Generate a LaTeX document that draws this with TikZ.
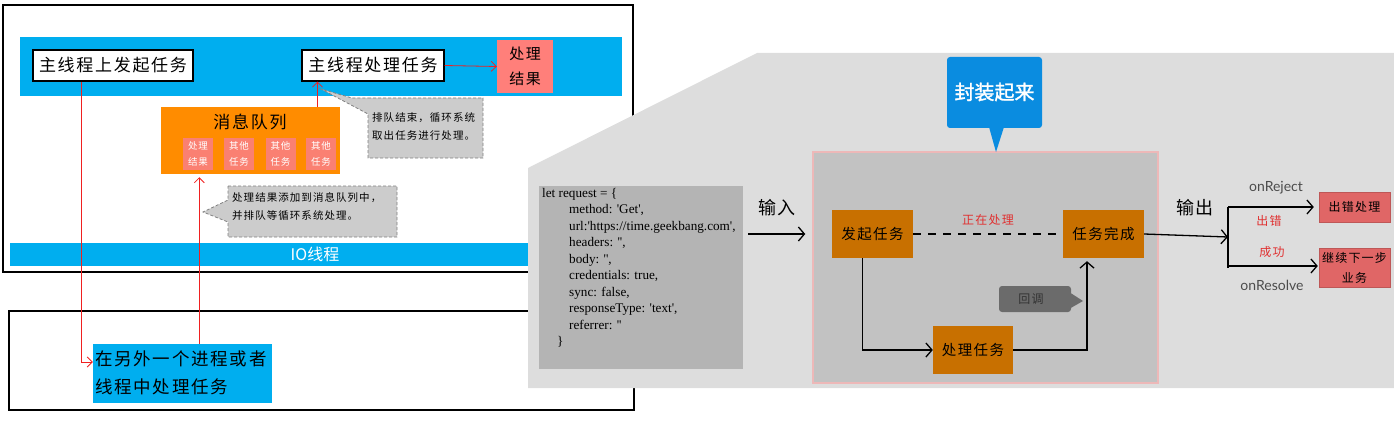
\documentclass[tikz,border=0pt]{standalone}
\usepackage{fontspec}
\setmainfont{Liberation Serif}
\newfontfamily\cjk{Noto Sans CJK SC}[LetterSpace=10]
\newfontfamily\cjkn{Noto Sans CJK SC}
\newfontfamily\cjkb{Noto Sans CJK SC}[FakeBold=1.5]
\newfontfamily\latf{Lato}
\usetikzlibrary{arrows.meta,calc}
\definecolor{cyanb}{HTML}{00AEEF}
\definecolor{salmonA}{HTML}{FF7F7A}
\definecolor{salmonB}{HTML}{FA8072}
\definecolor{orangeQ}{HTML}{FF8C00}
\definecolor{calloutg}{HTML}{CCCCCC}
\definecolor{calloutb}{HTML}{808080}
\definecolor{bggray}{HTML}{DDDDDD}
\definecolor{innergray}{HTML}{C2C2C2}
\definecolor{codegray}{HTML}{B4B4B4}
\definecolor{brownO}{HTML}{C87000}
\definecolor{redbox}{HTML}{E06666}
\definecolor{blueC}{HTML}{0A8CE0}
\definecolor{darkg}{HTML}{6B6B6B}
\definecolor{pinkedge}{HTML}{EDB8B8}
\definecolor{redtxt}{HTML}{E03030}
\definecolor{redline}{HTML}{F02020}
\tikzset{
  frameline/.style={draw=black,line width=1.6pt},
  whitebox/.style={draw=black,line width=1.1pt,fill=white,inner sep=0pt,
    font=\cjk\fontsize{17}{20}\selectfont},
  salbox/.style={fill=salmonA,inner sep=0pt,align=center,
    font=\cjk\fontsize{15}{25}\selectfont},
  smallbox/.style={fill=salmonB,inner sep=0pt,minimum width=30pt,minimum height=32pt,
    align=center,text=white,font=\cjk\fontsize{9.5}{16}\selectfont},
  callout/.style={fill=calloutg,draw=calloutb,line width=0.8pt,dash pattern=on 3pt off 2pt},
  callouttext/.style={align=left,inner sep=0pt,anchor=north west,
    font=\cjk\fontsize{10.5}{18}\selectfont},
  redarr/.style={draw=redline,line width=0.8pt,-{Straight Barb[length=5pt,width=10pt]}},
  sketch/.style={draw=black,line width=1.3pt},
  sketcharr/.style={sketch,-{Straight Barb[length=6pt,width=14pt,line width=1.3pt]}},
  brownbox/.style={fill=brownO,inner sep=0pt,minimum width=81pt,minimum height=48pt,
    font=\cjk\fontsize{14.5}{18}\selectfont},
  redbx/.style={fill=redbox,draw=redbox!85!black,line width=0.4pt,inner sep=0pt,
    minimum width=71pt,align=center,font=\cjk\fontsize{12}{20}\selectfont},
  bigcjk/.style={font=\cjk\fontsize{18}{22}\selectfont},
  redlabel/.style={text=redtxt,font=\cjk\fontsize{12}{14}\selectfont},
  onlabel/.style={text=black!70,font=\latf\fontsize{14}{16}\selectfont},
}
\begin{document}
\begin{tikzpicture}[x=1pt,y=-1pt]
\useasboundingbox (0,0) rectangle (1394,425);
% ---------- left part ----------
\draw[frameline] (3,5) rectangle (633,272);
\draw[frameline] (9,311) rectangle (634,410);
\fill[cyanb] (20,37) rectangle (622,96);
\node[whitebox,minimum width=160pt,minimum height=31pt] (m1) at (113,65.5) {主线程上发起任务};
\node[whitebox,minimum width=142pt,minimum height=31pt] (m2) at (373,65.5) {主线程处理任务};
\node[salbox,minimum width=56pt,minimum height=53pt] (res) at (525,66.5) {处理\\结果};
\draw[redarr] (m2.east) -- (res.west);
% queue
\node[fill=orangeQ,inner sep=0pt,minimum width=179pt,minimum height=67pt] (queue) at (250,140.5) {};
\node[font=\cjk\fontsize{17}{20}\selectfont] (qt) at (250,122) {消息队列};
\node[smallbox] (q1) at (198,154) {处理\\结果};
\node[smallbox] (q2) at (239,154) {其他\\任务};
\node[smallbox] (q3) at (280.5,154) {其他\\任务};
\node[smallbox] (q4) at (321,154) {其他\\任务};
% callout 1
\filldraw[callout] (368,98) -- (483,98) -- (483,158) -- (368,158) -- (368,114) -- (321,89) -- (352,98) -- cycle;
\node[callouttext] (c1) at (372,112) {排队结束，循环系统\\取出任务进行处理。};
% callout 2
\filldraw[callout] (228,186) -- (397,186) -- (397,237) -- (228,237) -- (228,222) -- (203,212) -- (228,200) -- cycle;
\node[callouttext] (c2) at (232,192) {处理结果添加到消息队列中，\\并排队等循环系统处理。};
% IO bar
\node[fill=cyanb,inner sep=0pt,minimum width=610pt,minimum height=23pt,text=white,
  font=\cjkn\fontsize{16}{18}\selectfont] (io) at (315,254.5) {IO线程};
% bottom box
\node[fill=cyanb,inner sep=0pt,minimum width=179pt,minimum height=59pt] (bot) at (182.5,373.5) {};
\node[anchor=west,align=left,inner sep=0pt,font=\cjk\fontsize{17.5}{28}\selectfont] (bott) at (95,373) {在另外一个进程或者\\线程中处理任务};
% red connectors
\coordinate (qa) at ($(m2.south west)+(16,0)$);
\draw[redarr] (qa |- queue.north) -- (qa);
\coordinate (qb) at ($(queue.south west)+(39,0)$);
\draw[redarr,shorten >=3pt] (qb |- bot.north) -- (qb);
\coordinate (qc) at ($(m1.south west)+(49,0)$);
\draw[redarr] (qc) |- ([yshift=11.5pt]bot.west);
% ---------- right part ----------
\fill[bggray] (528,168) -- (757,53) -- (1394,53) -- (1394,388) -- (528,388) -- cycle;
\node[fill=codegray,inner sep=0pt,minimum width=204pt,minimum height=183pt] (code) at (641,277.5) {};
\node[anchor=north west,align=left,inner sep=0pt,font=\fontsize{13.2}{16.5}\selectfont] (codet) at (542,188) {%
let request = \{\\
\hspace*{27pt}method: {\textquotesingle}Get{\textquotesingle},\\
\hspace*{27pt}url:{\textquotesingle}https://time.geekbang.com{\textquotesingle},\\
\hspace*{27pt}headers: {\textquotesingle\textquotesingle},\\
\hspace*{27pt}body: {\textquotesingle\textquotesingle},\\
\hspace*{27pt}credentials: true,\\
\hspace*{27pt}sync: false,\\
\hspace*{27pt}responseType: {\textquotesingle}text{\textquotesingle},\\
\hspace*{27pt}referrer: {\textquotesingle\textquotesingle}\\
\hspace*{15pt}\}};
\node[fill=innergray,draw=pinkedge,line width=1.5pt,inner sep=0pt,minimum width=345pt,minimum height=231pt] (wrap) at (985.5,267.5) {};
% 封装起来 callout
\fill[blueC,rounded corners=3pt] (947,57) rectangle (1042,128);
\fill[blueC] (989,127) -- (1004,127) -- (996,152) -- cycle;
\node[text=white,font=\cjkb\fontsize{20}{24}\selectfont] (pack) at (994.5,92) {封装起来};
% task boxes
\node[brownbox] (fa) at (872.5,234) {发起任务};
\node[brownbox] (wc) at (1103.5,234) {任务完成};
\node[brownbox,minimum width=80pt] (cl) at (973,350) {处理任务};
\draw[sketch,dash pattern=on 8pt off 7pt] (fa.east) -- (wc.west);
\node[redlabel] (busy) at (988,220) {正在处理};
% 回调 callout
\fill[darkg,rounded corners=3pt] (999,286) rectangle (1071,312);
\fill[darkg] (1069,292) -- (1083,301) -- (1069,309) -- cycle;
\node[text=black!80,font=\cjk\fontsize{12}{14}\selectfont] (cb) at (1031,299) {回调};
% arrows inside
\node[bigcjk] (inl) at (777,208) {输入};
\draw[sketcharr,shorten <=5pt,shorten >=7pt] (code.east |- fa.west) -- (wrap.west |- fa.west);
\draw[sketcharr] ([xshift=-10pt]fa.south) |- (cl.west);
\draw[sketcharr,shorten >=3pt] (cl.east) -| ([xshift=-16.5pt]wc.south);
% output
\coordinate (fork) at (1228,237);
\node[bigcjk] (outl) at (1195,208) {输出};
\draw[sketcharr] (wc.east) -- (fork);
\node[redbx,minimum height=30pt] (err) at (1354.5,207) {出错处理};
\node[redbx,minimum height=39pt] (ok) at (1354.5,267.5) {继续下一步\\业务};
\draw[sketch] (fork |- err.west) -- (fork |- ok.west);
\draw[sketcharr,shorten >=5pt] (fork |- err.west) -- (err.west);
\draw[sketcharr,shorten >=1pt] ([yshift=1.5pt]fork |- ok.west) -- ([yshift=1.5pt]ok.west);
\node[onlabel] (rej) at (1276,188) {onReject};
\node[redlabel] (errl) at (1269,221) {出错};
\node[redlabel] (okl) at (1272,252) {成功};
\node[onlabel] (resl) at (1272,285) {onResolve};
\end{tikzpicture}
\end{document}
